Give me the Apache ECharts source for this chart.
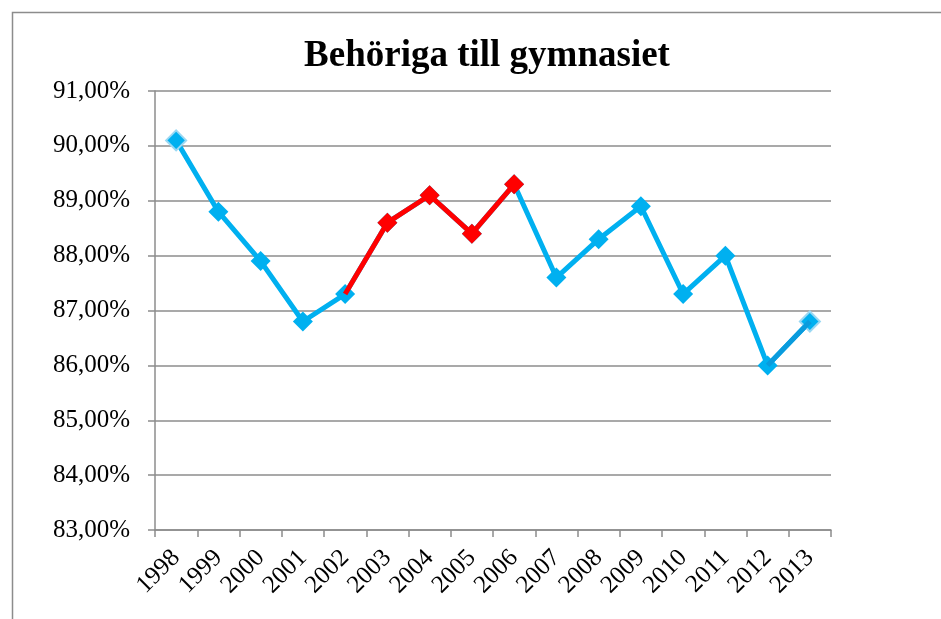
<!DOCTYPE html>
<html>
<head>
<meta charset="utf-8">
<script src="https://cdn.jsdelivr.net/npm/echarts@6/dist/echarts.min.js"></script>
<style>
html,body{margin:0;padding:0;background:#fff;}
#chart{width:941px;height:619px;}
</style>
</head>
<body>
<div id="chart"></div>
<script>
/* ---------- data ---------- */
const years = ['1998','1999','2000','2001','2002','2003','2004','2005','2006','2007','2008','2009','2010','2011','2012','2013'];
const values = [90.1, 88.8, 87.9, 86.8, 87.3, 88.6, 89.1, 88.4, 89.3, 87.6, 88.3, 88.9, 87.3, 88.0, 86.0, 86.8];
const redFrom = 2002, redTo = 2006;   // red segment years
const yTicks = {min:83, max:91, step:1};

const BLUE = '#00B0F0', RED = '#FF0000', DARK = '#0A9BDD';
const fmt = v => v.toFixed(2).replace('.', ',') + '%';

/* ---------- series build ---------- */
const blueData = values.map((v,i)=>{
  const o = {value:v};
  if(i===0 || i===values.length-1) o.itemStyle = {borderColor:'#9ad8f3', borderWidth:2};
  return o;
});
const redData = values.map((v,i)=>{
  const y = +years[i];
  if(y<redFrom || y>redTo) return '-';
  const o = {value:v};
  if(y===redFrom) o.symbolSize = 0;
  return o;
});
const darkData = values.map((v,i)=> i>=values.length-2 ? {value:v, symbolSize:0} : '-');

const chart = echarts.init(document.getElementById('chart'));
chart.setOption({
  animation:false,
  title:{
    text:'Behöriga till gymnasiet',
    left:482, top:33, textAlign:'center',
    textStyle:{fontFamily:'Liberation Serif', fontWeight:'bold', fontSize:37, color:'#000'}
  },
  graphic:[{
    type:'rect', left:10, top:10,
    shape:{width:1000, height:1000},
    style:{fill:'none', stroke:'#8c8c8c', lineWidth:1.5}
  }],
  grid:{left:155, right:110, top:91, bottom:89},
  xAxis:{
    type:'category', data:years, boundaryGap:true,
    axisLine:{lineStyle:{color:'#8c8c8c', width:1.5}},
    axisTick:{show:true, interval:0, length:7, lineStyle:{color:'#8c8c8c', width:1.5}},
    axisLabel:{interval:0, rotate:45, margin:24, fontFamily:'Liberation Serif', fontSize:25, color:'#000'}
  },
  yAxis:{
    type:'value', min:yTicks.min, max:yTicks.max, interval:yTicks.step,
    axisLine:{show:true, lineStyle:{color:'#8c8c8c', width:1.5}},
    axisTick:{show:true, length:7, lineStyle:{color:'#8c8c8c', width:1.5}},
    splitLine:{lineStyle:{color:'#8c8c8c', width:1.5}},
    axisLabel:{formatter:fmt, margin:25, fontFamily:'Liberation Serif', fontSize:25, color:'#000'}
  },
  series:[
    {type:'line', data:blueData, symbol:'diamond', symbolSize:20,
     lineStyle:{color:BLUE, width:5}, itemStyle:{color:BLUE}, z:2},
    {type:'line', data:darkData, symbol:'none',
     lineStyle:{color:DARK, width:5}, itemStyle:{color:DARK}, z:3},
    {type:'line', data:redData, symbol:'diamond', symbolSize:20,
     lineStyle:{color:RED, width:5}, itemStyle:{color:RED}, z:4}
  ]
});
</script>
</body>
</html>
